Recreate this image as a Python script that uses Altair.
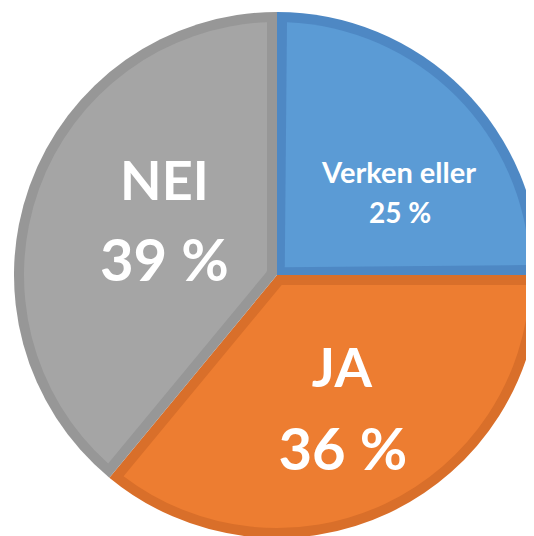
import math
import altair as alt
import pandas as pd

# Data
categories = ["Verken eller", "JA", "NEI"]
values = [25, 36, 39]
order = [1, 2, 3]

light_colors = ["#5B9BD5", "#ED7D31", "#A5A5A5"]
dark_colors = ["#4E88C4", "#D96F2A", "#979797"]

df = pd.DataFrame({
    "cat": categories,
    "value": values,
    "order": order,
})
df["pct"] = [f"{v} %" for v in values]

CX, CY = 269, 267      # pie centre inside the plot area
R = 263                # outer radius
BAND = 10              # width of the darker inner border
r_in = 11
pad = 2 * math.asin(BAND / math.sqrt(r_in ** 2 + (R - BAND) ** 2))

base = alt.Chart(df).encode(
    theta=alt.Theta("value:Q", stack=True),
    order=alt.Order("order:Q", sort="ascending"),
    x=alt.value(CX),
    y=alt.value(CY),
)

dark = base.mark_arc(outerRadius=R, innerRadius=0, stroke=None).encode(
    color=alt.Color("cat:N", scale=alt.Scale(domain=categories, range=dark_colors), legend=None)
)

light = base.mark_arc(outerRadius=R - BAND, innerRadius=r_in, padAngle=pad, stroke=None).encode(
    color=alt.Color("cat:N", scale=alt.Scale(domain=categories, range=light_colors), legend=None)
)


def label_layer(cat, field, radius, dx, dy, size):
    return base.mark_text(
        radius=radius, dx=dx, dy=dy, align="center", baseline="alphabetic",
        font="Lato", fontWeight="bold", fontSize=size, color="white",
    ).encode(
        detail="cat:N",
        text=alt.condition(alt.datum.cat == cat, alt.Text(f"{field}:N"), alt.value("")),
    )


labels = [
    label_layer("Verken eller", "cat", 150, 16, 14, 29),
    label_layer("Verken eller", "pct", 150, 17, 54, 28),
    label_layer("JA", "cat", 150, 1, -24, 54),
    label_layer("JA", "pct", 150, 2, 59, 58),
    label_layer("NEI", "cat", 125, 5, -33, 54),
    label_layer("NEI", "pct", 125, 5, 48, 58),
]

chart = (
    alt.layer(dark, light, *labels)
    .resolve_scale(color="independent")
    .properties(width=518, height=528, padding=0, autosize="none", background="white")
    .configure_view(stroke=None)
)

chart.save("out.html", embed_options={"renderer": "svg", "actions": False})
